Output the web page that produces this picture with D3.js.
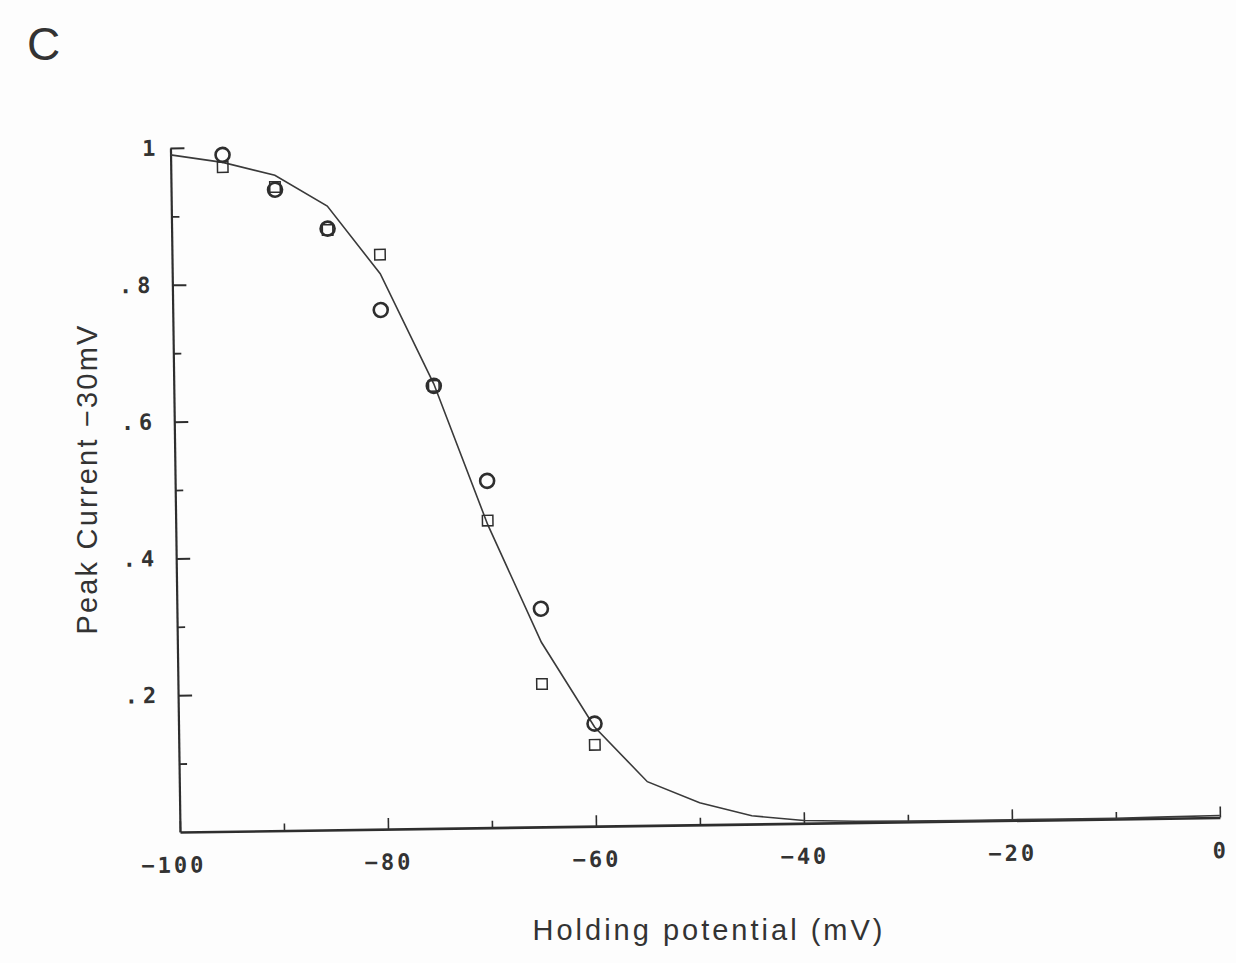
<!DOCTYPE html>
<html>
<head>
<meta charset="utf-8">
<script src="https://cdn.jsdelivr.net/npm/d3@7/dist/d3.min.js"></script>
<style>
  html, body { margin: 0; padding: 0; background: #fdfdfd; }
  svg { display: block; }
  .tick-lbl { font-family: "DejaVu Sans Mono", monospace; font-weight: bold; fill: #333; }
</style>
</head>
<body>
<svg id="chart" width="1236" height="963"></svg>
<script>
// Holding potential (mV) of each conditioning step
const holdingMv = [-95, -90, -85, -80, -75, -70, -65, -60];
// Normalised peak current, first cell (circles)
const circleCurrent = [0.989, 0.937, 0.879, 0.759, 0.647, 0.507, 0.319, 0.150];
// Normalised peak current, second cell (squares)
const squareCurrent = [0.971, 0.941, 0.877, 0.840, 0.647, 0.449, 0.209, 0.119];
// Fitted inactivation curve, sampled every 5 mV
const fitMv = [-100, -95, -90, -85, -80, -75, -70, -65, -60, -55, -50, -45, -40, -35, -30, -25, -20, -15, -10, -5, 0];
const fitCurrent = [0.990, 0.978, 0.958, 0.912, 0.812, 0.650, 0.443, 0.270, 0.145, 0.064, 0.032, 0.012, 0.004, 0.002, 0.001, 0.001, 0.001, 0.001, 0.001, 0.002, 0.003];
// Axis ticks
const xMajor = [-100, -80, -60, -40, -20, 0];
const xMinor = [-90, -70, -50, -30, -10];
const yMajor = [0.2, 0.4, 0.6, 0.8, 1];
const yMinor = [0.1, 0.3, 0.5, 0.7, 0.9];

const ink = "#2e2e2e";
const svg = d3.select("#chart");

// plot frame, slightly tilted like the original plotter sheet
const W = 1040, H = 684;
const g = svg.append("g").attr("transform", "translate(180,832) rotate(-0.8)");

const x = d3.scaleLinear().domain([-100, 0]).range([0, W]);
const y = d3.scaleLinear().domain([0, 1]).range([0, -H]);

// x axis (ticks point into the plot)
const xAx = g.append("g").call(
  d3.axisBottom(x).tickValues(xMajor).tickSizeInner(-11).tickSizeOuter(0).tickPadding(25)
    .tickFormat(d => d3.format("d")(d)));
xAx.select(".domain").attr("stroke", ink).attr("stroke-width", 2.6);
xAx.selectAll(".tick line").attr("stroke", ink).attr("stroke-width", 1.6);
xAx.selectAll(".tick text").attr("class", "tick-lbl").attr("font-size", 22)
  .attr("letter-spacing", "3px").attr("fill", ink)
  .attr("dx", d => d === -100 ? "-7px" : "0px");
const xMin = g.append("g").call(
  d3.axisBottom(x).tickValues(xMinor).tickSize(-7).tickFormat(""));
xMin.select(".domain").remove();
xMin.selectAll(".tick line").attr("stroke", ink).attr("stroke-width", 1.6);

// y axis (ticks point into the plot)
const yAx = g.append("g").call(
  d3.axisLeft(y).tickValues(yMajor).tickSizeInner(-14).tickSizeOuter(0).tickPadding(17)
    .tickFormat(v => v === 1 ? "1" : "." + Math.round(v * 10)));
yAx.select(".domain").attr("stroke", ink).attr("stroke-width", 2.2);
yAx.selectAll(".tick line").attr("stroke", ink).attr("stroke-width", 2);
yAx.selectAll(".tick text").attr("class", "tick-lbl").attr("font-size", 22)
  .attr("letter-spacing", "5px").attr("fill", ink)
  .attr("dx", v => v === 1 ? "7px" : "0px");
const yMin = g.append("g").call(
  d3.axisLeft(y).tickValues(yMinor).tickSize(-8).tickFormat(""));
yMin.select(".domain").remove();
yMin.selectAll(".tick line").attr("stroke", ink).attr("stroke-width", 1.8);

// fitted curve
const fit = fitMv.map((v, i) => [v, fitCurrent[i]]);
g.append("path")
  .datum(fit)
  .attr("fill", "none")
  .attr("stroke", "#3a3a3a")
  .attr("stroke-width", 1.6)
  .attr("stroke-linejoin", "miter")
  .attr("d", d3.line().x(d => x(d[0])).y(d => y(d[1])));

// squares
const sq = 10.5;
g.append("g").selectAll("rect")
  .data(holdingMv.map((v, i) => [v, squareCurrent[i]]))
  .join("rect")
  .attr("x", d => x(d[0]) - sq / 2)
  .attr("y", d => y(d[1]) - sq / 2)
  .attr("width", sq).attr("height", sq)
  .attr("fill", "none").attr("stroke", ink).attr("stroke-width", 1.5);

// circles
g.append("g").selectAll("circle")
  .data(holdingMv.map((v, i) => [v, circleCurrent[i]]))
  .join("circle")
  .attr("cx", d => x(d[0]))
  .attr("cy", d => y(d[1]))
  .attr("r", 7)
  .attr("fill", "none").attr("stroke", ink).attr("stroke-width", 2.6);

// axis titles
svg.append("text")
  .attr("x", 709).attr("y", 940)
  .attr("text-anchor", "middle")
  .attr("font-family", "Liberation Sans, Arial, sans-serif")
  .attr("font-size", 29).attr("fill", "#333")
  .attr("letter-spacing", "3px")
  .text("Holding potential (mV)");

svg.append("text")
  .attr("transform", "translate(97,479) rotate(-90)")
  .attr("text-anchor", "middle")
  .attr("font-family", "Liberation Sans, Arial, sans-serif")
  .attr("font-size", 29).attr("fill", "#333")
  .attr("letter-spacing", "2.2px")
  .attr("xml:space", "preserve")
  .text("Peak Current \u221230mV");

// panel letter
svg.append("text")
  .attr("x", 27).attr("y", 60)
  .attr("font-family", "Liberation Sans, Arial, sans-serif")
  .attr("font-size", 46).attr("fill", "#333")
  .text("C");
</script>
</body>
</html>
